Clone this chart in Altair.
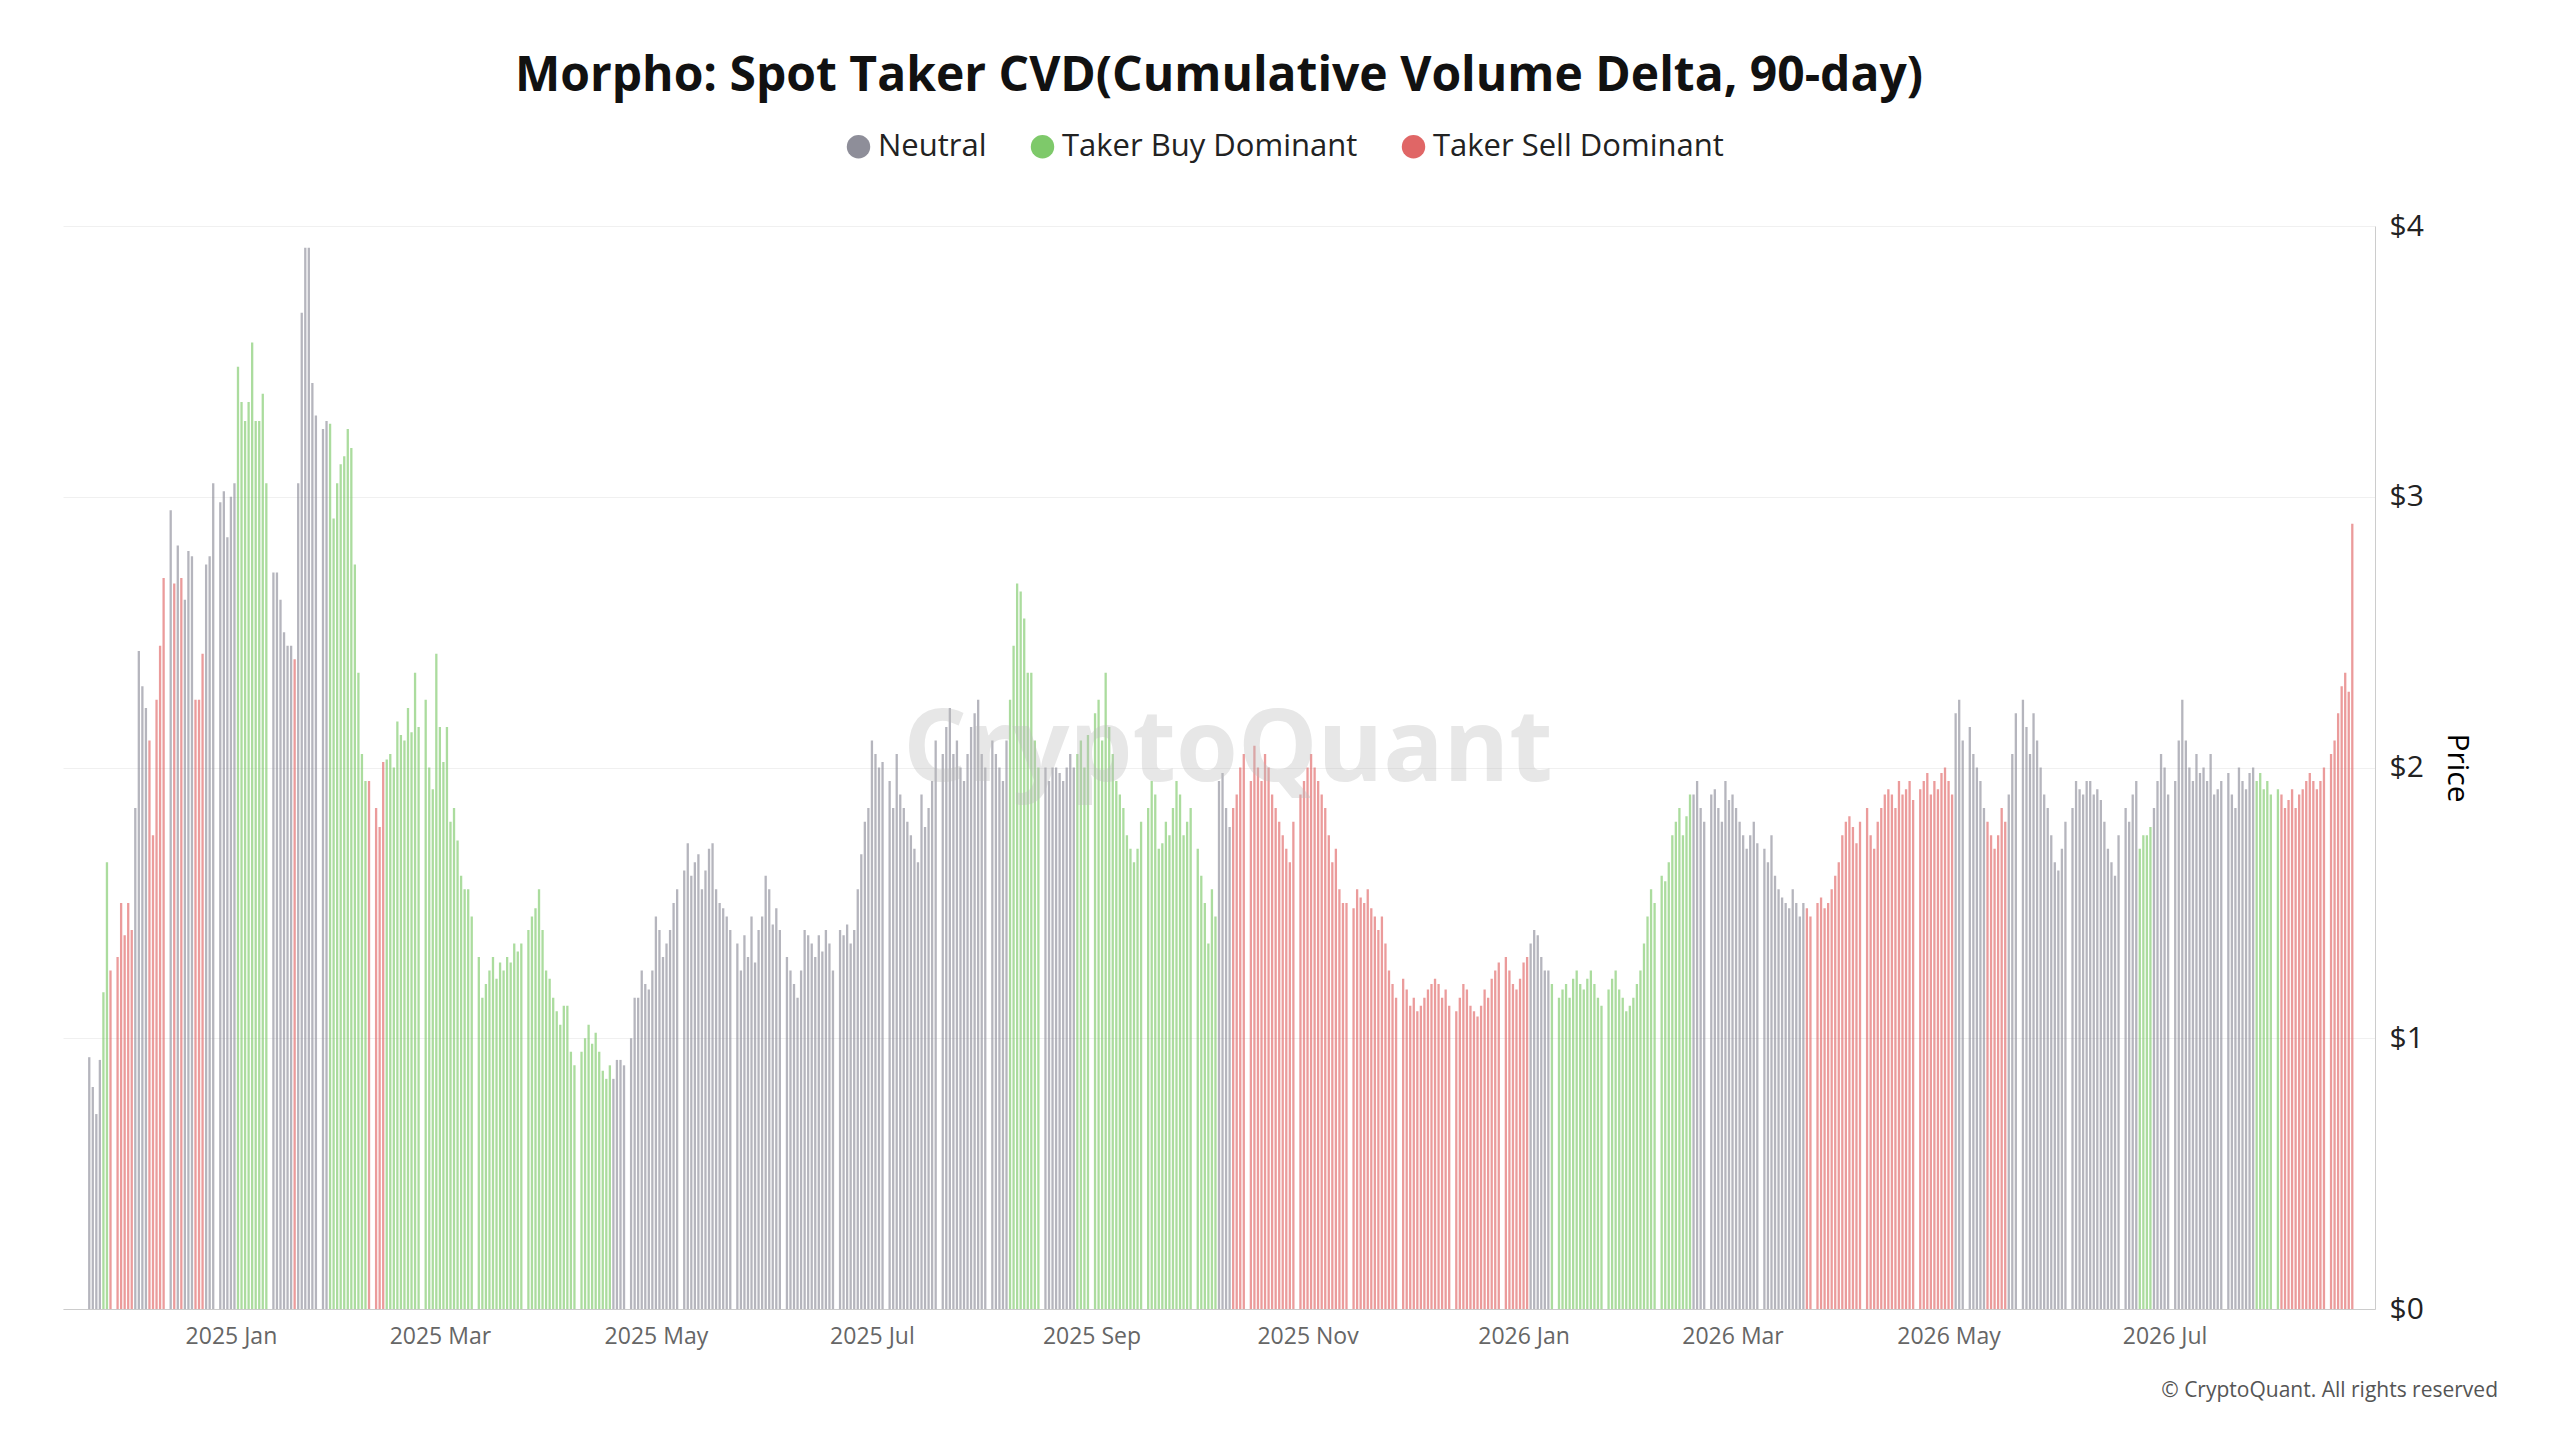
import altair as alt
import pandas as pd
import datetime as dt

segments = [
 ("Neutral",[0.93,0.82,0.72,0.92]),
 ("Taker Buy Dominant",[1.17,1.65]),
 ("Taker Sell Dominant",[1.25,1.30,1.50,1.38,1.50,1.40]),
 ("Neutral",[1.85,2.43,2.30,2.22]),
 ("Taker Sell Dominant",[2.10,1.75,2.25,2.45,2.70]),
 ("Neutral",[2.95]),("Taker Sell Dominant",[2.68]),("Neutral",[2.82]),("Taker Sell Dominant",[2.70]),
 ("Neutral",[2.62,2.80,2.78]),
 ("Taker Sell Dominant",[2.25,2.25,2.42]),
 ("Neutral",[2.75,2.78,3.05,2.98,3.02,2.85,3.0,3.05]),
 ("Taker Buy Dominant",[3.48,3.35,3.28,3.35,3.57,3.28,3.28,3.38,3.05]),
 ("Neutral",[2.72,2.72,2.62,2.50,2.45,2.45]),
 ("Taker Sell Dominant",[2.40]),
 ("Neutral",[3.05,3.68,3.92,3.92,3.42,3.30,3.25,3.28]),
 ("Taker Buy Dominant",[3.27,2.92,3.05,3.12,3.15,3.25,3.18,2.75,2.35,2.05,1.95]),
 ("Taker Sell Dominant",[1.95,1.85,1.78,2.02]),
 ("Taker Buy Dominant",[2.03,2.05,2.0,2.17,2.12,2.10,2.22,2.13,2.35,2.15,2.25,2.0,1.92,2.42,2.15,2.02,2.15,1.80,1.85,1.73,1.60,1.55,1.55,1.45,1.30,1.15,1.20,1.25,1.30,1.22,1.28,
   1.25,1.30,1.28,1.35,1.32,1.35,1.40,1.45,1.48,1.55,1.40,1.25,1.22,1.15,1.10,1.05,1.12,1.12,0.95,0.90,0.95,1.0,1.05,0.98,1.02,0.95,0.88,0.85,0.90]),
 ("Neutral",[0.85,0.92,0.92,0.90,1.0,1.15,1.15,1.25,1.20,1.18,1.25,1.45,1.40,1.30,1.35,1.40,1.50,1.55,1.62,1.72,1.60,1.65,1.68,1.55,1.62,1.70,1.72,1.55,1.50,1.48,1.45,1.40,1.35,1.25,1.38,1.30,1.45,1.28,1.40,1.45,1.60,1.55,1.42,1.48,1.40,1.30,1.25,1.20,1.15,1.25,1.40,1.38,1.35,1.30,1.38,1.32,1.40,1.35,1.25,1.40,1.38,1.42,1.35,1.40,1.55,1.68,1.80,1.85,2.10,2.05,2.0,2.02,1.95,1.85,2.05,1.90,1.85,1.80,1.75,1.70,1.65,1.90,1.78,1.85,1.95,2.10,
   2.05,2.15,2.22,2.05,2.10,2.0,1.95,2.05,2.15,2.20,2.25,2.05,2.0,2.10,2.05,2.0,1.95,2.10]),
 ("Taker Buy Dominant",[2.25,2.45,2.68,2.65,2.55,2.35,2.35,2.10,2.0]),
 ("Neutral",[2.0,1.95,2.0,2.0,1.98,1.95,2.0,2.05,2.0]),
 ("Taker Buy Dominant",[2.05,2.10,2.0,2.12,2.20,2.25,2.10,2.35,2.15,2.05,1.95,1.90,1.85,1.75,1.70,1.65,1.70,1.80,1.85,1.95,1.90,1.70,1.72,1.80,1.75,1.85,1.95,1.90,1.75,1.80,1.85,1.70,1.60,1.50,1.35,1.55,1.45]),
 ("Neutral",[1.95,1.98,1.85,1.78]),
 ("Taker Sell Dominant",[1.85,1.90,2.0,2.05,1.95,2.08,2.0,1.95,2.05,2.0,1.90,1.85,1.80,1.75,1.70,1.65,1.80,1.90,1.95,2.0,2.05,2.0,1.95,1.90,1.85,1.75,1.65,1.70,1.55,1.50,1.50,1.48,1.55,1.52,1.50,1.55,1.48,1.45,1.40,1.45,1.35,1.25,1.20,1.15,1.22,1.18,1.12,1.15,1.10,1.12,1.15,1.18,1.20,1.22,1.20,1.15,1.18,1.12,1.10,1.15,1.20,1.18,1.12,1.10,1.08,1.12,1.18,1.15,1.22,1.25,1.28,1.30,1.25,1.20,1.18,1.22,1.28,1.30]),
 ("Neutral",[1.35,1.40,1.38,1.30,1.25,1.25]),
 ("Taker Buy Dominant",[1.20,1.15,1.18,1.20,1.15,1.22,1.25,1.20,1.18,1.22,1.25,1.20,1.15,1.12,1.18,1.22,1.25,1.18,1.15,1.10,1.12,1.15,1.20,1.25,1.35,1.45,1.55,1.50,1.60,1.58,1.65,1.75,1.80,1.85,1.75,1.82,1.90]),
 ("Neutral",[1.90,1.95,1.85,1.80,1.90,1.92,1.85,1.80,1.95,1.88,1.90,1.85,1.80,1.75,1.70,1.75,1.80,1.72,1.70,1.65,1.75,1.60,1.55,1.52,1.50,1.48,1.55,1.50,1.45,1.50]),
 ("Taker Sell Dominant",[1.48,1.45,1.50,1.52,1.48,1.50,1.55,1.60,1.65,1.75,1.80,1.82,1.78,1.72,1.80,1.85,1.75,1.70,1.80,1.85,1.90,1.92,1.90,1.85,1.95,1.90,1.92,1.95,1.88,1.92,1.95,1.98,1.90,1.95,1.92,1.98,2.0,1.95,1.90]),
 ("Neutral",[2.20,2.25,2.10,2.15,2.05,2.0,1.95,1.85]),
 ("Taker Sell Dominant",[1.80,1.75,1.70,1.75,1.85,1.80]),
 ("Neutral",[1.90,2.05,2.20,2.25,2.15,2.05,2.20,2.10,2.0,1.90,1.85,1.75,1.65,1.62,1.70,1.80,1.85,1.95,1.92,1.90,1.95,1.95,1.90,1.92,1.88,1.80,1.70,1.65,1.60,1.75,1.85,1.80,1.90,1.95]),
 ("Taker Buy Dominant",[1.70,1.75,1.75,1.78]),
 ("Neutral",[1.85,1.95,2.05,2.0,1.90,1.95,2.10,2.25,2.10,2.0,1.95,2.05,1.98,2.0,1.95,2.05,1.90,1.92,1.95,1.98,1.90,1.85,2.0,1.95,1.92,1.98,2.0]),
 ("Taker Buy Dominant",[1.95,1.98,1.92,1.95,1.90,1.92]),
 ("Taker Sell Dominant",[1.90,1.85,1.88,1.92,1.85,1.90,1.92,1.95,1.98,1.95,1.92,1.95,2.0,2.05,2.10,2.20,2.30,2.35,2.28,2.90]),
]

cats, vals = [], []
for c, v in segments:
    cats += [c]*len(v); vals += v
n = len(vals)
end = dt.date(2026, 8, 23)
start = dt.date(2024, 11, 22)
span = (end - start).days
dates = [start + dt.timedelta(days=round(i*span/(n-1))) for i in range(n)]
df = pd.DataFrame({"date": [d.isoformat() for d in dates], "price": vals, "type": cats})

tick_dates = [dt.datetime(y,m,1) for y,m in [(2025,1),(2025,3),(2025,5),(2025,7),(2025,9),(2025,11),(2026,1),(2026,3),(2026,5),(2026,7)]]

colors = alt.Scale(domain=["Neutral","Taker Buy Dominant","Taker Sell Dominant"], range=["#8e8e99","#7ec96a","#e06666"])

bars = alt.Chart(df).mark_bar(width=2.3, opacity=0.65).encode(
    x=alt.X("date:T", title=None, scale=alt.Scale(domain=["2024-11-16","2026-08-28"]),
            axis=alt.Axis(values=tick_dates, format="%Y %b", labelColor="#666", labelFontSize=23,
                          grid=False, domainColor="#ccc", ticks=False, labelPadding=16, labelFont="Open Sans")),
    y=alt.Y("price:Q", title="Price", scale=alt.Scale(domain=[0,4]),
            axis=alt.Axis(orient="right", values=[0,1,2,3,4], format="$d", labelFontSize=30, titleFontSize=30,
                          titleAngle=90, titleFont="Open Sans", labelFont="Open Sans", labelColor="#222", titleFontWeight="normal",
                          gridColor="#f0f0f0", domainColor="#ccc", ticks=False, titlePadding=18, labelPadding=14)),
    color=alt.Color("type:N", scale=colors, title=None,
                    legend=alt.Legend(orient="none", legendX=780, legendY=-95, direction="horizontal", symbolType="circle", symbolSize=550,
                                      symbolOpacity=1, labelFontSize=31, labelFont="Open Sans", labelColor="#222",
                                      columnPadding=40, labelLimit=600))
)

wm = alt.Chart(pd.DataFrame({"t":["CryptoQuant"]})).mark_text(fontSize=100, color="#bbbbbb", opacity=0.35, fontWeight="bold", font="Open Sans").encode(
    text="t:N", x=alt.value(1165), y=alt.value(525))

cr = alt.Chart(pd.DataFrame({"t":["© CryptoQuant. All rights reserved"]})).mark_text(fontSize=21, color="#555", align="right", font="Open Sans").encode(
    text="t:N", x=alt.value(2435), y=alt.value(1165))

chart = (bars + wm + cr).properties(
    width=2544, height=1420,
    title=alt.TitleParams("Morpho: Spot Taker CVD(Cumulative Volume Delta, 90-day)", fontSize=48, font="Open Sans", fontWeight="bold", color="#111", anchor="middle", offset=110),
    autosize=alt.AutoSizeParams(type="fit", contains="padding"),
    padding={"left": 55, "right": 80, "top": 45, "bottom": 80}
).configure_view(stroke=None)

chart.save("out.html", embed_options={"renderer": "svg", "actions": False})
